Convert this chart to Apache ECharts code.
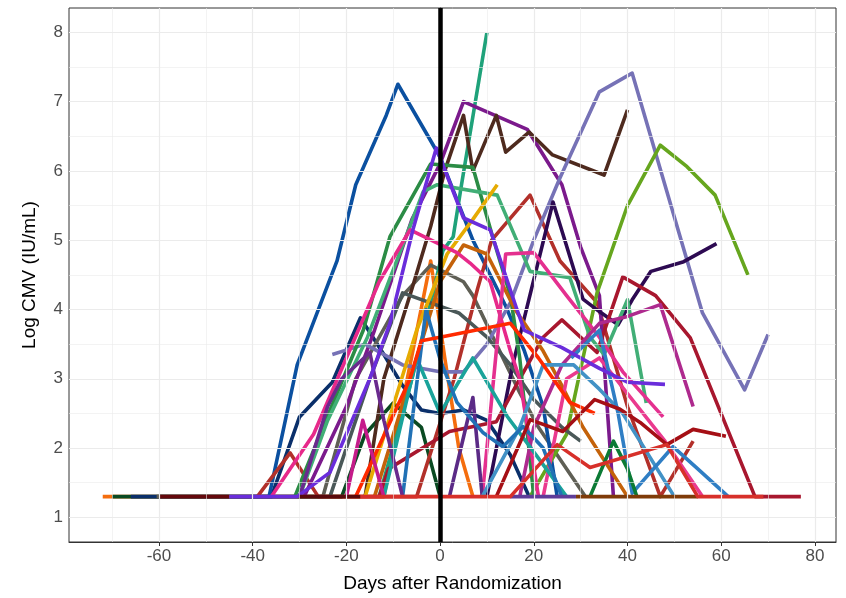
<!DOCTYPE html>
<html>
<head>
<meta charset="utf-8">
<script src="https://cdn.jsdelivr.net/npm/echarts@6/dist/echarts.min.js"></script>
<style>
html, body { margin: 0; padding: 0; background: #fff; }
#chart { width: 846px; height: 598px; }
</style>
</head>
<body>
<div id="chart"></div>
<script>
// axis ticks
var xTicks = [-60, -40, -20, 0, 20, 40, 60, 80];
var xMinor = [-70, -50, -30, -10, 10, 30, 50, 70];
var yTicks = [1, 2, 3, 4, 5, 6, 7, 8];
var yMinor = [1.5, 2.5, 3.5, 4.5, 5.5, 6.5, 7.5];

// one array per patient: [day after randomization, log CMV]
var p01 = [[-72,1.3],[-12,1.3],[-7,3.0],[-2,4.7],[1,3.3],[4,2.0],[7,1.3]];
var p02 = [[-70,1.3],[-21,1.3],[-16,2.2],[-10,2.65],[-4,2.3],[0,1.3]];
var p03 = [[-66,1.3],[-36,1.3],[-30,2.45],[-23,2.95],[-17,3.88],[-12,3.35],[-8,2.9],[-4,2.55],[0,2.5],[5,2.55],[10,2.4],[15,1.9],[19,1.3]];
var p04 = [[-60.5,1.3],[-25,1.3],[-18,3.0],[-8,4.2],[-2,4.64],[5,4.4],[7,4.2],[12,3.5],[17,2.8],[21,2.3],[26,1.8],[31,1.3]];
var p05 = [[-60,1.3],[-45,1.3]];
var p08 = [[-36.5,1.3],[-30.5,3.2],[-22,4.7],[-18,5.8],[-11.5,6.8],[-9,7.25],[0,6.2],[7,5.0],[14,4.05],[18,3.4],[22,2.6],[25,1.3]];
var p09 = [[-39,1.3],[-32,1.93],[-26,1.3],[-5,1.3],[3,3.0],[8,4.3],[11,5.0],[19.2,5.65],[25.6,4.7],[33.5,4.1],[40,2.6],[47,1.3],[54,2.1]];
var p10 = [[-13,1.3],[-6,3.0],[-2,4.1],[0.6,4.85],[2.8,5.05],[4.5,5.77],[10,8.0]];
var p11 = [[-29,1.3],[-20,2.6],[-14,3.7],[-6,5.3],[0,6.1],[5,7.0],[18.6,6.6],[26,5.8],[30,4.9],[34,4.2],[37,1.3]];
var p12 = [[-16,1.3],[-12,3.0],[-6,4.3],[-2,5.2],[1,6.0],[5,6.8],[7,6.0],[12,6.8],[14,6.27],[19,6.56],[24,6.23],[35,5.94],[40,6.88]];
var p13 = [[-23,3.35],[-16,3.5],[-8,3.2],[0,3.1],[5,3.1],[10,3.5],[15,4.1],[20,5.0],[25.6,5.9],[34,7.14],[41,7.41],[56,3.95],[65,2.84],[70,3.64]];
var p14 = [[19.2,1.3],[27,2.2],[33.5,4.24],[40,5.5],[47,6.37],[52.7,6.06],[58.7,5.65],[65.7,4.5]];
var p15 = [[10,1.3],[15.5,3.2],[24.1,5.55],[30.5,4.15],[34,3.97],[38,3.78],[41,4.14],[45,4.55],[52,4.69],[59,4.95]];
var p16 = [[-13,1.3],[-11,1.7],[2,2.24],[12,2.38],[17,3.0],[22,3.6],[26,3.85],[33.5,3.38],[39,4.47],[46,4.2],[53.4,3.59],[67.2,1.3],[77,1.3]];
var p17 = [[-31,1.3],[-25,2.3],[-16.4,3.7],[-10.7,5.05],[-2,6.1],[7,6.05],[11,5.1],[15,4.2],[17,3.3],[20,1.3]];
var p18 = [[-30,1.3],[-24,2.4],[-15.5,3.6],[-3.6,5.7],[-0.6,5.8],[12.2,5.65],[19.2,4.55],[27.7,4.46],[32,3.6],[35,3.35],[40,4.14],[44,2.65]];
var p19 = [[-23.5,1.3],[-15,3.0],[-8,4.24],[4,3.95],[10,3.6],[15,3.2],[20,2.7],[26,2.3],[30,2.1]];
var p20 = [[-16,1.3],[-5,3.7],[1.5,4.8],[7,5.3],[12.2,5.8]];
var p21 = [[-14,1.3],[-5,3.3],[0,4.4],[5,4.93],[10,4.8],[16,4.0],[22,3.4],[26,2.9],[30.5,2.3],[40,1.3]];
var p22 = [[-36,1.3],[-27,2.2],[-20,3.3],[-13,4.4],[-6.4,5.15],[3.6,4.82],[6.4,4.67],[10.7,4.4],[15,3.4],[17,3.0],[21,1.3]];
var p23 = [[9,1.3],[14,4.8],[20,4.82],[27,4.2],[34,3.6],[39,3.1],[47.6,2.45]];
var p24 = [[22,1.3],[27,3.0],[34,3.3],[48,2.1],[56,1.3]];
var p25 = [[17,1.3],[20,2.3],[26,3.2],[34,3.8],[40,3.9],[47,4.07],[54,2.6]];
var p26 = [[2,1.3],[7,2.73],[9,1.3]];
var p27 = [[-12,1.3],[-5,3.3],[0,2.5],[7,3.3],[14.3,2.46],[20.7,1.88],[27,1.3]];
var p28 = [[9,1.3],[17,2.3],[22,3.2],[28.5,3.2],[34,2.85],[39,2.5],[50,1.3]];
var p29 = [[-8,1.3],[-3,4.0],[0,3.28],[3.6,2.66],[9.2,2.22],[13.4,2.02],[17.7,2.31],[22,2.0],[26,1.3]];
var p30 = [[28,3.3],[34,3.7],[38,2.5],[41,1.35],[49.7,2.02],[55,1.7],[61.5,1.3]];
var p31 = [[-18,1.3],[-6.4,3.0],[-4,3.55],[0,3.6],[15,3.8],[21,3.3],[27.7,2.66],[33,2.5]];
var p32 = [[32,1.3],[37,2.1],[40,1.7],[42,1.3]];
var p33 = [[-30,1.3],[-24,2.6],[-21,3.0],[-15,3.38],[-12,2.4],[-8,1.3]];
var p34 = [[-20,1.3],[-16.5,2.4],[-12,1.3]];
var p35 = [[12,1.3],[19.2,2.41],[26.2,2.24],[33,2.7],[38.4,2.56],[42.7,2.37],[48.4,2.05],[54,2.27],[61,2.17]];
var p06 = [[-45,1.3],[-30.5,1.3],[-23.5,1.65],[-15,3.0],[-10.7,3.8],[-5.8,5.15],[-0.8,6.33],[5,5.32],[10.7,5.15],[16.4,4.0],[18,3.7],[26,3.45],[34,3.15],[40,2.95],[48,2.92]];
var p07 = [[-30,1.3],[-17,1.3]];
var p36 = [[15,1.3],[29,1.3]];
var p37 = [[29,1.3],[55,1.3]];
var p38 = [[-17,1.3],[15,1.3],[25,2.05],[32,1.72],[48.4,2.05],[55,1.3],[69,1.3]];

var patients = [p01,p02,p03,p04,p05,p08,p09,p10,p11,p12,p13,p14,p15,p16,p17,p18,p19,p20,p21,p22,
                p23,p24,p25,p26,p27,p28,p29,p30,p31,p32,p33,p34,p35,p06,p07,p36,p37,p38];
var colors = ['#f46d0e','#0a4a22','#0a2f6a','#5f5f55','#64080c','#0b50a0','#b2302a','#1fa27a','#7b1a8c','#4e2a1e',
              '#7672b6','#66a61e','#2d0a52','#a8172e','#2b8c45','#41ae76','#4a5858','#e6ab02','#c4620a','#e7298a',
              '#e4308f','#ea3a8e','#ae2a8e','#5b2a86','#1aa39a','#4292c6','#2171b5','#2f7ec4','#ff2a00','#0b7a35',
              '#6a2a8e','#c51b8a','#a50f15','#6a2ddb','#5a0a0c','#5e3c99','#7f3b08','#d7302a'];

var chart = echarts.init(document.getElementById('chart'));

var gridLines = [];
xMinor.forEach(function (v) { gridLines.push({ xAxis: v, lineStyle: { width: 0.6 } }); });
yMinor.forEach(function (v) { gridLines.push({ yAxis: v, lineStyle: { width: 0.6 } }); });
xTicks.forEach(function (v) { gridLines.push({ xAxis: v, lineStyle: { width: 1.2 } }); });
yTicks.forEach(function (v) { gridLines.push({ yAxis: v, lineStyle: { width: 1.2 } }); });

var series = [{
    type: 'line',
    data: [],
    z: 1,
    silent: true,
    markLine: {
        silent: true,
        symbol: 'none',
        label: { show: false },
        lineStyle: { color: '#ebebeb', type: 'solid' },
        data: gridLines
    }
}];

patients.forEach(function (d, i) {
    series.push({
        type: 'line',
        data: d,
        symbol: 'none',
        z: 3,
        lineStyle: { width: 3.6, color: colors[i], cap: 'butt', join: 'round' },
        itemStyle: { color: colors[i] }
    });
});

// vertical reference line at randomization
series.push({
    type: 'line',
    data: [],
    z: 10,
    silent: true,
    markLine: {
        silent: true,
        symbol: 'none',
        label: { show: false },
        lineStyle: { color: '#000', width: 4.5, type: 'solid' },
        data: [{ xAxis: 0 }]
    }
});

var option = {
    animation: false,
    grid: {
        left: 69, right: 10, top: 8, bottom: 55,
        show: true,
        borderColor: '#333',
        borderWidth: 1,
        backgroundColor: '#fff'
    },
    xAxis: {
        type: 'value',
        min: -79.2,
        max: 84.5,
        name: 'Days after Randomization',
        nameLocation: 'middle',
        nameGap: 32,
        nameTextStyle: { fontSize: 19, color: '#000', fontFamily: 'Liberation Sans' },
        axisLine: { show: true, lineStyle: { color: '#333' } },
        axisTick: { show: true, length: 4, customValues: xTicks, lineStyle: { color: '#333' } },
        axisLabel: { customValues: xTicks, fontSize: 17, color: '#4d4d4d', margin: 6, fontFamily: 'Liberation Sans' },
        splitLine: { show: false }
    },
    yAxis: {
        type: 'value',
        min: 0.645,
        max: 8.35,
        name: 'Log CMV (IU/mL)',
        nameLocation: 'middle',
        nameGap: 30,
        nameTextStyle: { fontSize: 19, color: '#000', fontFamily: 'Liberation Sans' },
        axisLine: { show: true, lineStyle: { color: '#333' } },
        axisTick: { show: true, length: 4, customValues: yTicks, lineStyle: { color: '#333' } },
        axisLabel: { customValues: yTicks, fontSize: 17, color: '#4d4d4d', margin: 6, fontFamily: 'Liberation Sans' },
        splitLine: { show: false }
    },
    series: series
};

chart.setOption(option);
</script>
</body>
</html>
